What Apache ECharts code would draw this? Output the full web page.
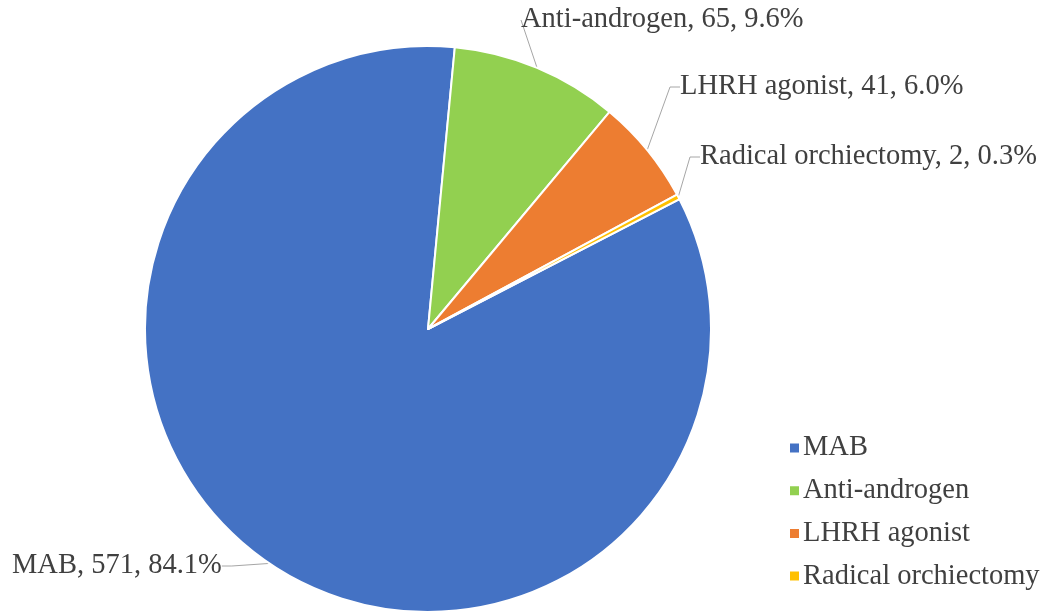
<!DOCTYPE html>
<html>
<head>
<meta charset="utf-8">
<script src="https://cdn.jsdelivr.net/npm/echarts@6/dist/echarts.min.js"></script>
<style>
  html, body { margin: 0; padding: 0; background: #ffffff; }
  #chart { width: 1061px; height: 614px; }
</style>
</head>
<body>
<div id="chart"></div>
<script>
// Treatment groups and patient counts
const categories = ['MAB', 'Anti-androgen', 'LHRH agonist', 'Radical orchiectomy'];
const counts = [571, 65, 41, 2];
const colors = ['#4472C4', '#92D050', '#ED7D31', '#FFC000'];

// Where each data label sits (left edge, vertical middle) in pixels
const labelSpots = [
  [12, 566],
  [521, 20],
  [680, 87],
  [700, 157]
];

const total = counts.reduce((a, b) => a + b, 0);
const pieData = categories.map((name, i) => ({
  name: name,
  value: counts[i],
  itemStyle: { color: colors[i] }
}));

const textColor = '#404040';
const serif = '"Liberation Serif", "Times New Roman", serif';

const chart = echarts.init(document.getElementById('chart'), null, { renderer: 'canvas' });
chart.setOption({
  backgroundColor: '#ffffff',
  animation: false,
  legend: {
    orient: 'vertical',
    left: 783,
    top: 428,
    itemWidth: 11,
    itemHeight: 11,
    itemGap: 12.7,
    icon: 'rect',
    data: categories,
    textStyle: { fontFamily: serif, fontSize: 28.5, color: textColor, lineHeight: 30, padding: [0, 0, 0, -2] }
  },
  series: [{
    type: 'pie',
    center: [428, 329],
    radius: 283,
    startAngle: 27.3,
    clockwise: true,
    data: pieData,
    itemStyle: { borderColor: '#ffffff', borderWidth: 2 },
    label: {
      show: true,
      position: 'outside',
      alignTo: 'none',
      fontFamily: serif,
      fontSize: 28.5,
      color: textColor,
      formatter: p => p.name + ', ' + p.value + ', ' + (p.value / total * 100).toFixed(1) + '%'
    },
    labelLine: {
      show: true,
      length: 20,
      length2: 10,
      lineStyle: { color: '#a6a6a6', width: 1 }
    },
    labelLayout: params => {
      const s = labelSpots[params.dataIndex];
      return { x: s[0], y: s[1], align: 'left', verticalAlign: 'middle' };
    },
    emphasis: { disabled: true }
  }]
});
</script>
</body>
</html>
